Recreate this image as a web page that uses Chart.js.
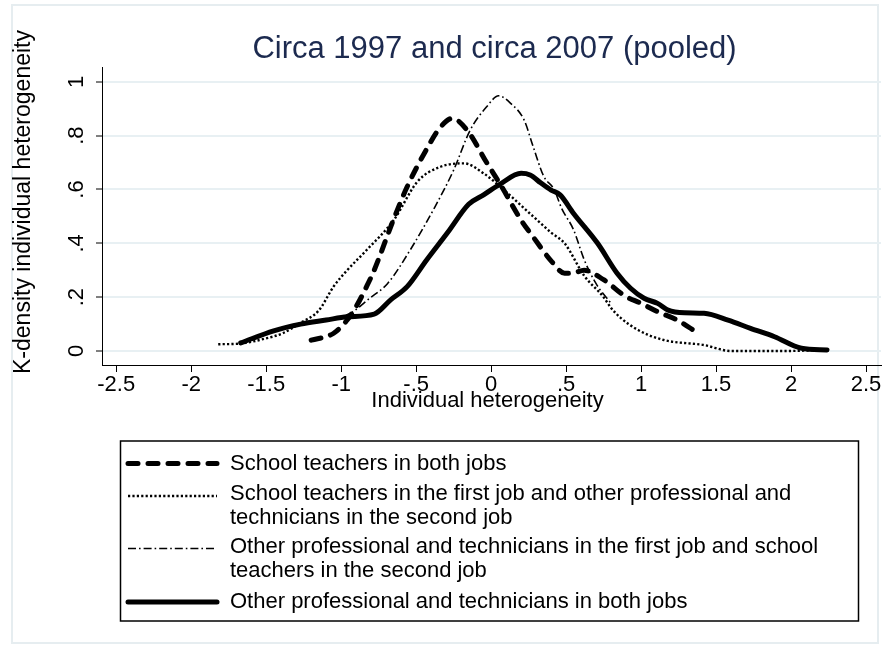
<!DOCTYPE html>
<html>
<head>
<meta charset="utf-8">
<title>Circa 1997 and circa 2007 (pooled)</title>
<script src="https://cdn.jsdelivr.net/npm/chart.js@4.4.1/dist/chart.umd.min.js"></script>
<style>
  html, body { margin: 0; padding: 0; background: #fff; }
  #wrap { width: 886px; height: 649px; position: relative; }
</style>
</head>
<body>
<div id="wrap"><canvas id="kdens" width="886" height="649"></canvas></div>
<script>
// axis ticks
const xTicks = [-2.5, -2, -1.5, -1, -0.5, 0, 0.5, 1, 1.5, 2, 2.5];
const xTickLabels = ['-2.5', '-2', '-1.5', '-1', '-.5', '0', '.5', '1', '1.5', '2', '2.5'];
const yTicks = [0, 0.2, 0.4, 0.6, 0.8, 1];
const yTickLabels = ['0', '.2', '.4', '.6', '.8', '1'];

// legend texts (one entry per series, split in lines)
const legendLines = [
  ['School teachers in both jobs'],
  ['School teachers in the first job and other professional and', 'technicians in the second job'],
  ['Other professional and technicians in the first job and school', 'teachers in the second job'],
  ['Other professional and technicians in both jobs']
];

// School teachers in both jobs
const teachBothX = [-1.2, -1.05, -0.96, -0.9, -0.83, -0.78, -0.65, -0.56, -0.43, -0.34, -0.26, -0.16, -0.03, 0.06, 0.2, 0.28, 0.4, 0.49, 0.55, 0.62, 0.75, 0.89, 1.0, 1.11, 1.24, 1.37];
const teachBothY = [0.04, 0.066, 0.115, 0.165, 0.24, 0.3, 0.49, 0.61, 0.75, 0.83, 0.864, 0.82, 0.7, 0.62, 0.486, 0.424, 0.335, 0.289, 0.29, 0.3, 0.265, 0.205, 0.177, 0.146, 0.115, 0.07];

// School teachers first job, other prof. second job
const teachFirstX = [-1.82, -1.67, -1.5, -1.39, -1.27, -1.15, -1.05, -0.96, -0.83, -0.65, -0.49, -0.34, -0.18, -0.05, 0.11, 0.28, 0.4, 0.49, 0.62, 0.75, 0.8, 0.86, 0.98, 1.15, 1.42, 1.6, 1.95, 2.24];
const teachFirstY = [0.025, 0.028, 0.047, 0.066, 0.105, 0.15, 0.24, 0.3, 0.375, 0.486, 0.63, 0.684, 0.697, 0.66, 0.586, 0.5, 0.44, 0.4, 0.28, 0.2, 0.16, 0.125, 0.078, 0.041, 0.022, 0.0, 0.0, 0.004];

// Other prof. first job, school teachers second job
const profFirstX = [-1.67, -1.45, -1.27, -1.1, -0.94, -0.81, -0.69, -0.54, -0.38, -0.25, -0.14, -0.03, 0.05, 0.13, 0.22, 0.28, 0.35, 0.42, 0.47, 0.55, 0.62, 0.7, 0.8];
const profFirstY = [0.03, 0.075, 0.1, 0.115, 0.14, 0.196, 0.251, 0.375, 0.53, 0.672, 0.82, 0.907, 0.948, 0.92, 0.858, 0.76, 0.65, 0.6, 0.53, 0.45, 0.34, 0.25, 0.177];

// Other professional and technicians in both jobs
const profBothX = [-1.67, -1.45, -1.27, -1.1, -0.96, -0.78, -0.67, -0.56, -0.43, -0.29, -0.15, -0.05, 0.06, 0.2, 0.26, 0.33, 0.4, 0.46, 0.55, 0.71, 0.84, 0.93, 1.02, 1.11, 1.18, 1.29, 1.42, 1.58, 1.73, 1.89, 2.07, 2.24];
const profBothY = [0.03, 0.075, 0.1, 0.115, 0.127, 0.137, 0.19, 0.239, 0.338, 0.44, 0.545, 0.58, 0.62, 0.66, 0.654, 0.625, 0.598, 0.58, 0.511, 0.4, 0.289, 0.233, 0.196, 0.177, 0.152, 0.142, 0.14, 0.115, 0.084, 0.053, 0.01, 0.004];

const FONT = "'Liberation Sans', Arial, Helvetica, sans-serif";

function pts(xs, ys) {
  return xs.map((x, i) => ({ x: x, y: ys[i] }));
}

function lineSet(label, xs, ys, width, dash, cap) {
  return {
    label: label,
    data: pts(xs, ys),
    showLine: true,
    borderColor: '#000',
    backgroundColor: '#000',
    borderWidth: width,
    borderDash: dash,
    borderCapStyle: cap,
    borderJoinStyle: 'round',
    pointRadius: 0,
    fill: false,
    cubicInterpolationMode: 'monotone'
  };
}

const datasets = [
  lineSet(legendLines[0].join(' '), teachBothX, teachBothY, 5, [10, 10], 'round'),
  lineSet(legendLines[1].join(' '), teachFirstX, teachFirstY, 2.4, [2.2, 2.2], 'butt'),
  lineSet(legendLines[2].join(' '), profFirstX, profFirstY, 1.6, [8, 3, 1.6, 3], 'butt'),
  lineSet(legendLines[3].join(' '), profBothX, profBothY, 5, [], 'round')
];

// title, axis titles, legend box and outer frame, Stata style
const stataDecor = {
  id: 'stataDecor',
  beforeDraw(chart) {
    const c = chart.ctx;
    c.save();
    c.fillStyle = '#fff';
    c.fillRect(0, 0, chart.width, chart.height);
    c.strokeStyle = '#e6edf0';
    c.lineWidth = 2;
    c.strokeRect(12, 5, 866, 638);
    c.restore();
  },
  afterDraw(chart) {
    const c = chart.ctx;
    const area = chart.chartArea;
    c.save();
    c.textBaseline = 'middle';

    // title
    c.fillStyle = '#1c2a4f';
    c.font = '31px ' + FONT;
    c.textAlign = 'center';
    c.fillText('Circa 1997 and circa 2007 (pooled)', (area.left + area.right) / 2 + 3, 49);

    // axis titles
    c.fillStyle = '#000';
    c.font = '22px ' + FONT;
    c.fillText('Individual heterogeneity', (area.left + area.right) / 2 - 4, 401);
    c.save();
    c.translate(24, 202);
    c.rotate(-Math.PI / 2);
    c.font = '23px ' + FONT;
    c.fillText('K-density individual heterogeneity', 0, 0);
    c.restore();

    // legend
    c.strokeStyle = '#000';
    c.lineWidth = 1.5;
    c.strokeRect(120.5, 441, 738, 180);
    const rowY = [[463.5], [494, 518], [546.5, 571], [602]];
    c.textAlign = 'left';
    c.font = '22px ' + FONT;
    chart.data.datasets.forEach((ds, i) => {
      const y0 = rowY[i][0] + (i === 0 || i === 3 ? 0 : 2);
      c.save();
      c.strokeStyle = ds.borderColor;
      c.lineWidth = ds.borderWidth;
      c.lineCap = ds.borderCapStyle;
      c.setLineDash(ds.borderDash);
      c.beginPath();
      c.moveTo(128, y0);
      c.lineTo(217, y0);
      c.stroke();
      c.restore();
      legendLines[i].forEach((txt, j) => {
        c.fillText(txt, 230, rowY[i][j]);
      });
    });
    c.restore();
  }
};

const ctx = document.getElementById('kdens').getContext('2d');
const chart = new Chart(ctx, {
  type: 'scatter',
  data: { datasets: datasets },
  options: {
    responsive: false,
    animation: false,
    layout: { padding: { left: 0, top: 67, right: 5, bottom: 0 } },
    plugins: {
      legend: { display: false },
      title: { display: false },
      tooltip: { enabled: false }
    },
    scales: {
      x: {
        type: 'linear',
        min: -2.595,
        max: 2.6,
        afterBuildTicks(scale) {
          scale.ticks = xTicks.map(v => ({ value: v }));
        },
        afterFit(scale) {
          scale.height = 649 - 365;
        },
        ticks: {
          autoSkip: false,
          maxRotation: 0,
          padding: 0,
          color: '#000',
          font: { family: FONT, size: 22 },
          callback: (v, i) => xTickLabels[i]
        },
        grid: {
          display: true,
          drawOnChartArea: false,
          drawTicks: true,
          tickLength: 7,
          tickColor: '#000',
          tickWidth: 1
        },
        border: { display: true, color: '#000', width: 1 }
      },
      y: {
        type: 'linear',
        min: -0.052,
        max: 1.055,
        afterBuildTicks(scale) {
          scale.ticks = yTicks.map(v => ({ value: v }));
        },
        afterFit(scale) {
          scale.width = 102;
        },
        ticks: {
          autoSkip: false,
          minRotation: 90,
          maxRotation: 90,
          crossAlign: 'center',
          padding: 10,
          color: '#000',
          font: { family: FONT, size: 22 },
          callback: (v, i) => yTickLabels[i]
        },
        grid: {
          display: true,
          color: '#e8f0f3',
          lineWidth: 2,
          drawTicks: true,
          tickLength: 6,
          tickColor: '#000',
          tickWidth: 1
        },
        border: { display: true, color: '#000', width: 1 }
      }
    }
  },
  plugins: [stataDecor]
});
</script>
</body>
</html>
